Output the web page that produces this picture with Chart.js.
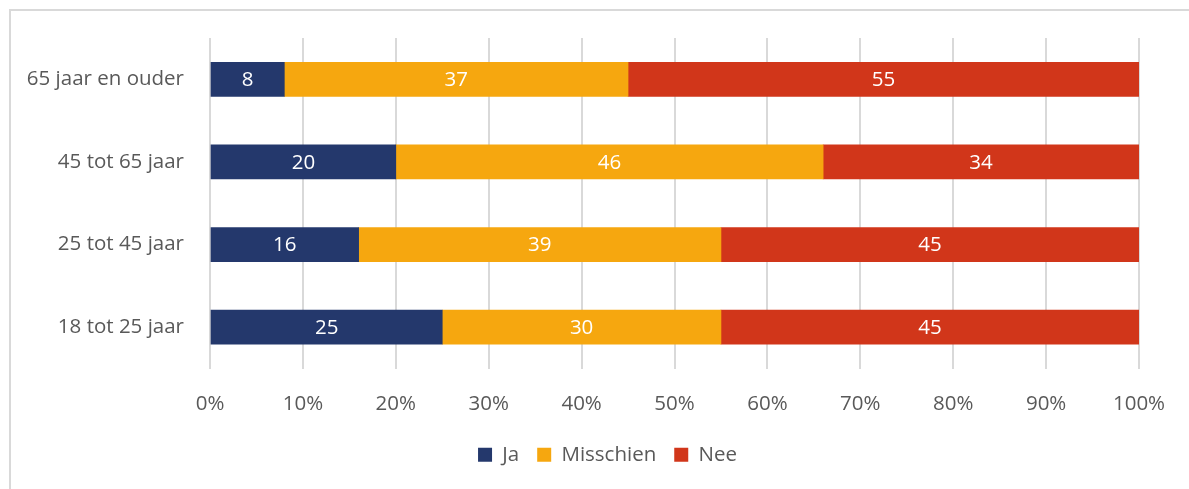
<!DOCTYPE html>
<html>
<head>
<meta charset="utf-8">
<script src="https://cdn.jsdelivr.net/npm/chart.js@4"></script>
<style>
  html, body { margin: 0; padding: 0; background: #fff; }
  #wrap { position: relative; width: 1189px; height: 489px; }
  #frame { position: absolute; left: 9px; top: 9px; right: -5px; bottom: -5px; border-left: 2px solid #d9d9d9; border-top: 2px solid #d9d9d9; }
  canvas { position: absolute; left: 0; top: 0; }
</style>
</head>
<body>
<div id="wrap">
  <div id="frame"></div>
  <canvas id="myChart" width="1189" height="489"></canvas>
</div>
<script>
// Data
const categories = ['65 jaar en ouder', '45 tot 65 jaar', '25 tot 45 jaar', '18 tot 25 jaar'];
const ja = [8, 20, 16, 25];
const misschien = [37, 46, 39, 30];
const nee = [55, 34, 45, 45];
const xTicks = [0, 10, 20, 30, 40, 50, 60, 70, 80, 90, 100];

const FONT = '"Open Sans", sans-serif';
const SIZE = 20.5;
const GREY = '#595959';

// Draw the value in the middle of each bar segment
const barLabels = {
    id: 'barLabels',
    afterLayout(chart) {
        // nudge the legend to the right like the original
        chart.legend.left += 38;
        chart.legend.right += 38;
    },
    afterDatasetsDraw(chart) {
        const ctx = chart.ctx;
        ctx.save();
        ctx.fillStyle = '#ffffff';
        ctx.font = SIZE + 'px ' + FONT;
        ctx.textAlign = 'center';
        ctx.textBaseline = 'middle';
        chart.data.datasets.forEach((ds, i) => {
            chart.getDatasetMeta(i).data.forEach((bar, j) => {
                const mid = (bar.x + bar.base) / 2;
                ctx.fillText(ds.data[j], mid, bar.y + 1);
            });
        });
        ctx.restore();
    }
};

const ctx = document.getElementById('myChart').getContext('2d');
new Chart(ctx, {
    type: 'bar',
    data: {
        labels: categories,
        datasets: [
            { label: 'Ja', data: ja, backgroundColor: '#24386c' },
            { label: 'Misschien', data: misschien, backgroundColor: '#f6a70f' },
            { label: 'Nee', data: nee, backgroundColor: '#d1361a' }
        ]
    },
    options: {
        indexAxis: 'y',
        responsive: false,
        animation: false,
        datasets: { bar: { barThickness: 34 } },
        layout: { padding: { top: 38, right: 50, bottom: 14, left: 0 } },
        scales: {
            x: {
                stacked: true,
                min: 0,
                max: 100,
                afterBuildTicks: (scale) => { scale.ticks = xTicks.map(v => ({ value: v })); },
                afterFit: (scale) => { scale.height = 58; },
                border: { display: false },
                grid: { color: '#d9d9d9', lineWidth: 2, drawTicks: false },
                ticks: {
                    color: GREY,
                    font: { family: FONT, size: SIZE },
                    padding: 23,
                    callback: (v) => v + '%'
                }
            },
            y: {
                stacked: true,
                afterFit: (scale) => { scale.width = 210; },
                border: { display: false },
                grid: { display: false },
                ticks: {
                    color: GREY,
                    font: { family: FONT, size: SIZE },
                    padding: 18
                }
            }
        },
        plugins: {
            tooltip: { enabled: false },
            legend: {
                position: 'bottom',
                labels: {
                    color: GREY,
                    font: { family: FONT, size: SIZE },
                    boxWidth: 14,
                    boxHeight: 14,
                    padding: 18
                }
            }
        }
    },
    plugins: [barLabels]
});
</script>
</body>
</html>
